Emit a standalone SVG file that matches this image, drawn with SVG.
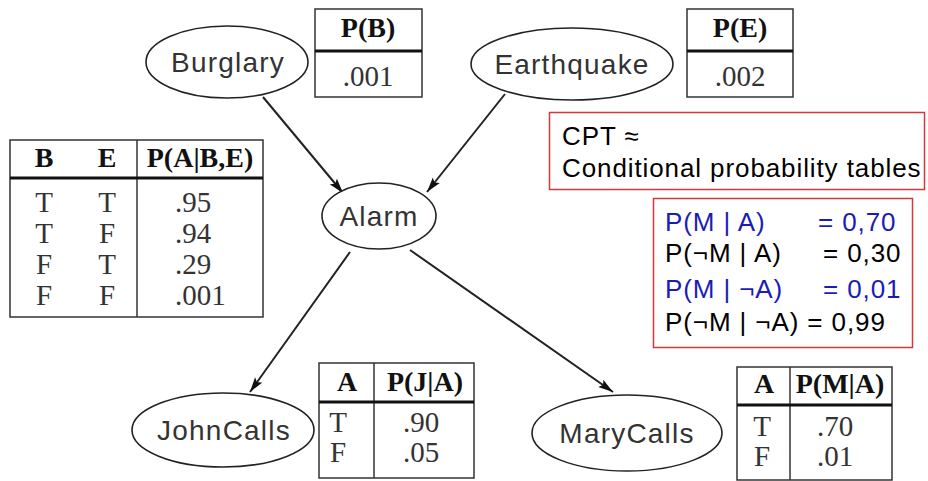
<svg xmlns="http://www.w3.org/2000/svg" width="928" height="481" viewBox="0 0 928 481">
<defs>
<style>
.node ellipse{fill:#fff;stroke:#222;stroke-width:1.6}
.node text{font-family:"Liberation Sans",Arial,sans-serif;font-size:28px;letter-spacing:1.2px;fill:#333;text-anchor:middle;dominant-baseline:central}
.tbl rect{fill:#fff;stroke:#333;stroke-width:1.5}
.tbl line{stroke:#333;stroke-width:1.5}
.tbl line.hd{stroke:#111;stroke-width:3}
.tbl text{font-family:"Liberation Serif","Times New Roman",serif;font-size:29px;fill:#333}
.tbl text.h{font-weight:bold;font-size:28px;fill:#111;text-anchor:middle}
.tbl text.c{text-anchor:middle}
.note rect{fill:#fff;stroke:#d03a3a;stroke-width:1.5}
.note text{font-family:"Liberation Sans",Arial,sans-serif;font-size:26px;letter-spacing:0.9px;fill:#000}
.note text.b{fill:#1c1cb4}
.conn line{stroke:#222;stroke-width:2;marker-end:url(#ah)}
</style>
<marker id="ah" markerUnits="userSpaceOnUse" markerWidth="16" markerHeight="10" refX="15" refY="4.5" orient="auto">
<path d="M0,0 L15,4.5 L0,9 L3,4.5 z" fill="#111"/>
</marker>
</defs>
<rect width="928" height="481" fill="#fff"/>

<g id="connectors" class="conn">
<line x1="263" y1="97" x2="343" y2="193"/>
<line x1="505" y1="94" x2="427" y2="192"/>
<line x1="350" y1="252" x2="250" y2="392"/>
<line x1="410" y1="250" x2="613" y2="392"/>
</g>

<g id="burglary" class="node"><ellipse cx="227" cy="62" rx="81" ry="36"/><text x="228" y="62">Burglary</text></g>
<g id="earthquake" class="node"><ellipse cx="572" cy="64" rx="101" ry="36"/><text x="572" y="64">Earthquake</text></g>
<g id="alarm" class="node"><ellipse cx="379" cy="216" rx="57" ry="33"/><text x="379" y="216">Alarm</text></g>
<g id="johncalls" class="node"><ellipse cx="223" cy="430" rx="91" ry="37"/><text x="224" y="430">JohnCalls</text></g>
<g id="marycalls" class="node"><ellipse cx="627" cy="433" rx="95" ry="38"/><text x="627" y="433">MaryCalls</text></g>

<g id="table-pb" class="tbl">
<rect x="315" y="9" width="107" height="88"/>
<line class="hd" x1="315" y1="51" x2="422" y2="51"/>
<text class="h" x="368" y="37">P(B)</text>
<text class="c" x="368" y="86">.001</text>
</g>

<g id="table-pe" class="tbl">
<rect x="687" y="9" width="106" height="88"/>
<line class="hd" x1="687" y1="51" x2="793" y2="51"/>
<text class="h" x="740" y="37">P(E)</text>
<text class="c" x="740" y="86">.002</text>
</g>

<g id="table-pa" class="tbl">
<rect x="10" y="140" width="253" height="177"/>
<line x1="137" y1="140" x2="137" y2="317"/>
<line class="hd" x1="10" y1="178" x2="263" y2="178"/>
<text class="h" x="44" y="167">B</text>
<text class="h" x="107" y="167">E</text>
<text class="h" x="200" y="167">P(A|B,E)</text>
<text class="c" x="44" y="212">T</text><text class="c" x="107" y="212">T</text><text x="175" y="212">.95</text>
<text class="c" x="44" y="243">T</text><text class="c" x="107" y="243">F</text><text x="175" y="243">.94</text>
<text class="c" x="44" y="274">F</text><text class="c" x="107" y="274">T</text><text x="175" y="274">.29</text>
<text class="c" x="44" y="305">F</text><text class="c" x="107" y="305">F</text><text x="175" y="305">.001</text>
</g>

<g id="table-pj" class="tbl">
<rect x="319" y="363" width="155" height="115"/>
<line x1="374" y1="363" x2="374" y2="478"/>
<line class="hd" x1="319" y1="402" x2="474" y2="402"/>
<text class="h" x="347" y="391">A</text>
<text class="h" x="425" y="391">P(J|A)</text>
<text class="c" x="338" y="432">T</text><text x="403" y="432">.90</text>
<text class="c" x="338" y="462">F</text><text x="403" y="462">.05</text>
</g>

<g id="table-pm" class="tbl">
<rect x="737" y="367" width="155" height="113"/>
<line x1="790" y1="367" x2="790" y2="480"/>
<line class="hd" x1="737" y1="405" x2="892" y2="405"/>
<text class="h" x="764" y="393">A</text>
<text class="h" x="840" y="393">P(M|A)</text>
<text class="c" x="762" y="436">T</text><text x="817" y="436">.70</text>
<text class="c" x="762" y="466">F</text><text x="817" y="466">.01</text>
</g>

<g id="note-cpt" class="note">
<rect x="549.5" y="112.5" width="375" height="77"/>
<text x="562" y="145">CPT ≈</text>
<text x="562" y="177">Conditional probability tables</text>
</g>

<g id="note-values" class="note">
<rect x="653.5" y="198.5" width="259" height="149"/>
<text class="b" x="665" y="231">P(M | A)</text><text class="b" x="818" y="231">= 0,70</text>
<text x="665" y="262">P(¬M | A)</text><text x="823" y="262">= 0,30</text>
<text class="b" x="665" y="298">P(M | ¬A)</text><text class="b" x="823" y="298">= 0,01</text>
<text x="665" y="331">P(¬M | ¬A) = 0,99</text>
</g>
</svg>
